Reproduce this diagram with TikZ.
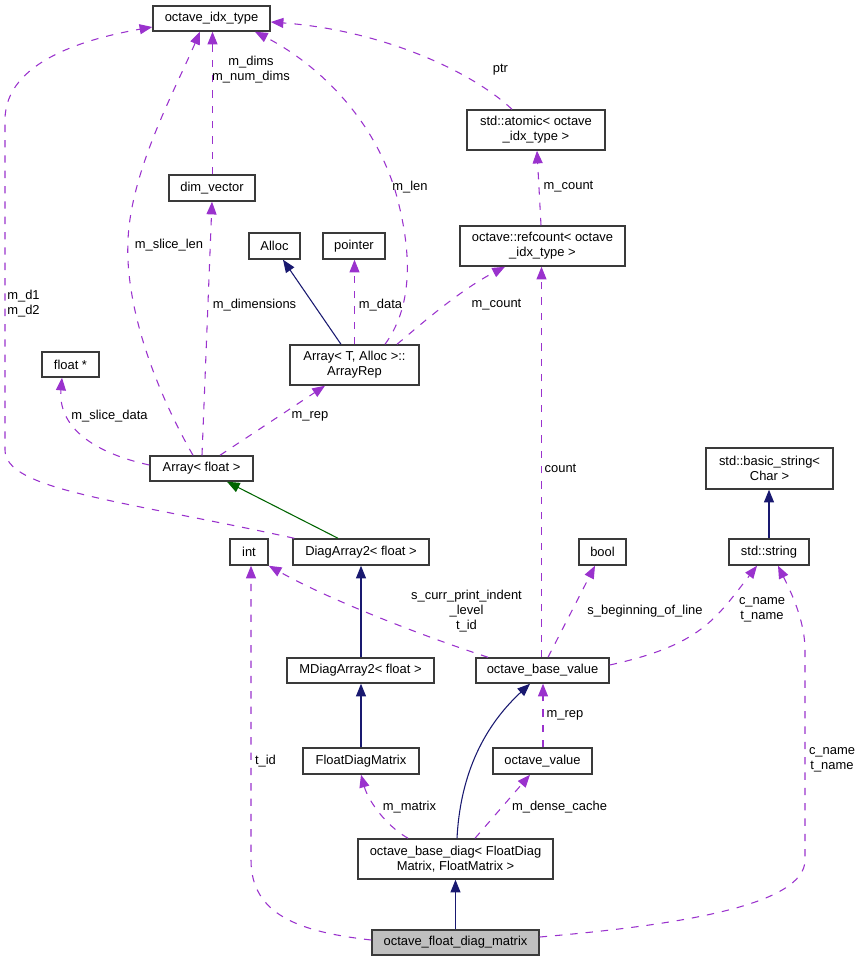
\documentclass[tikz,border=0pt]{standalone}
\usepackage{fontspec}
\setmainfont{Liberation Sans}
\usetikzlibrary{arrows.meta}
\definecolor{edgepurple}{HTML}{9A32CD}
\definecolor{edgenavy}{HTML}{191970}
\definecolor{edgegreen}{HTML}{006400}
\definecolor{boxline}{HTML}{3A3A3A}
\definecolor{mainfill}{HTML}{BFBFBF}
\def\pxu{0.75pt}
\tikzset{
  cls/.style={draw=boxline, line width=1.1pt, inner sep=0pt, align=center,
    font=\fontsize{9.7}{11.3}\selectfont, fill=white},
  lbl/.style={inner sep=0pt, align=center, font=\fontsize{9.7}{11.3}\selectfont},
  tip/.style={-{Triangle[length=9.5pt,width=7.5pt]}},
  usedby/.style={tip, draw=edgepurple, line width=0.8pt, dash pattern=on 5.5pt off 6pt},
  inherit/.style={tip, draw=edgenavy, line width=0.8pt},
  inheritg/.style={tip, draw=edgegreen, line width=0.8pt},
}
\begin{document}
\begin{tikzpicture}[x=0.75pt, y=-0.75pt]
\useasboundingbox (0,0) rectangle (861,961);
% nodes
\node[cls, minimum width=117*\pxu, minimum height=25*\pxu] (idx) at (211.5,18.5) {octave\_idx\_type};
\node[cls, minimum width=86*\pxu, minimum height=26*\pxu] (dimv) at (212,188) {dim\_vector};
\node[cls, minimum width=51*\pxu, minimum height=26*\pxu] (alloc) at (274.5,246) {Alloc};
\node[cls, minimum width=62*\pxu, minimum height=26*\pxu] (pointer) at (354,246) {pointer};
\node[cls, minimum width=138*\pxu, minimum height=40*\pxu] (atomic) at (536,130) {std::atomic< octave\\\_idx\_type >};
\node[cls, minimum width=165*\pxu, minimum height=40*\pxu] (refcount) at (542.5,246) {octave::refcount< octave\\\_idx\_type >};
\node[cls, minimum width=57*\pxu, minimum height=25*\pxu] (floatp) at (70.5,364.5) {float *};
\node[cls, minimum width=129*\pxu, minimum height=40*\pxu] (arep) at (354.5,365) {Array< T, Alloc >::\\ArrayRep};
\node[cls, minimum width=103*\pxu, minimum height=25*\pxu] (arr) at (201.5,468.5) {Array< float >};
\node[cls, minimum width=38*\pxu, minimum height=26*\pxu] (int) at (249,552) {int};
\node[cls, minimum width=136*\pxu, minimum height=26*\pxu] (diag2) at (361,552) {DiagArray2< float >};
\node[cls, minimum width=127*\pxu, minimum height=41*\pxu] (bstr) at (769.5,468.5) {std::basic\_string<\\Char >};
\node[cls, minimum width=47*\pxu, minimum height=26*\pxu] (bool) at (602.5,552) {bool};
\node[cls, minimum width=80*\pxu, minimum height=26*\pxu] (str) at (769,552) {std::string};
\node[cls, minimum width=147*\pxu, minimum height=25*\pxu] (mdiag) at (360.5,670.5) {MDiagArray2< float >};
\node[cls, minimum width=116*\pxu, minimum height=26*\pxu] (fdm) at (361,761) {FloatDiagMatrix};
\node[cls, minimum width=195*\pxu, minimum height=40*\pxu] (obd) at (455.5,859) {octave\_base\_diag< FloatDiag\\Matrix, FloatMatrix >};
\node[cls, fill=mainfill, minimum width=167*\pxu, minimum height=25*\pxu] (ofdm) at (455.5,942.5) {octave\_float\_diag\_matrix};
\node[cls, minimum width=133*\pxu, minimum height=25*\pxu] (obv) at (542.5,670.5) {octave\_base\_value};
\node[cls, minimum width=99*\pxu, minimum height=26*\pxu] (ov) at (542.5,761) {octave\_value};

% edges
\draw[usedby] ([xshift=0.5*\pxu]dimv.north) -- ([xshift=0.5*\pxu]dimv.north |- idx.south);
\draw[usedby] ([xshift=-8.5*\pxu]arr.north) .. controls (150,380) and (125,300) .. (128,240)
  .. controls (131,170) and (175,90) .. ([xshift=-11.5*\pxu]idx.south);
\draw[usedby] ([xshift=0.5*\pxu]arr.north) -- (dimv.south);
\draw[usedby] ([xshift=30.5*\pxu]arep.north) .. controls (410,310) and (415,260) .. (395,190)
  .. controls (370,110) and (310,60) .. ([xshift=43.5*\pxu]idx.south);
\draw[inherit] ([xshift=-13.5*\pxu]arep.north) -- ([xshift=8.5*\pxu]alloc.south);
\draw[usedby] ([xshift=0.5*\pxu]pointer.south |- arep.north) -- ([xshift=0.5*\pxu]pointer.south);
\draw[usedby] ([xshift=42.5*\pxu]arep.north) .. controls (420,325) and (460,290) .. ([xshift=-37.5*\pxu]refcount.south);
\draw[usedby] ([xshift=-1.5*\pxu]refcount.north) -- ([xshift=1*\pxu]atomic.south);
\draw[usedby] ([xshift=-24*\pxu]atomic.north) .. controls (470,70) and (380,30) .. ([yshift=-3.5*\pxu]idx.east);
\draw[usedby] ([yshift=3.5*\pxu]arr.west) .. controls (90,452) and (58,425) .. ([xshift=-8.5*\pxu]floatp.south);
\draw[usedby] ([xshift=18.5*\pxu]arr.north) -- ([xshift=-29.5*\pxu]arep.south);
\draw[inheritg] ([xshift=-23*\pxu]diag2.north) -- ([xshift=25.5*\pxu]arr.south);
\draw[usedby] ([xshift=2*\pxu]diag2.north west) .. controls (120,500) and (5,490) .. (5,450)
  -- (5,120) .. controls (5,60) and (90,38) .. ([yshift=-8.5*\pxu]idx.west);
\draw[inherit] (diag2.south |- mdiag.north) -- (diag2.south);
\draw[inherit] (fdm.north) -- (fdm.north |- mdiag.south);
\draw[usedby] ([xshift=-47.5*\pxu]obd.north) .. controls (385,825) and (368,800) .. (fdm.south);
\draw[usedby] ([xshift=19.5*\pxu]obd.north) -- ([xshift=-12.5*\pxu]ov.south);
\draw[inherit] ([xshift=1.5*\pxu]obd.north) .. controls (460,780) and (480,730) .. ([xshift=-12.5*\pxu]obv.south);
\draw[usedby] ([xshift=0.5*\pxu]ov.north) -- ([xshift=0.5*\pxu]obv.south);
\draw[usedby] ([xshift=-1*\pxu]obv.north) -- ([xshift=-1*\pxu]refcount.south);
\draw[usedby] ([xshift=-54.5*\pxu]obv.north) .. controls (420,635) and (330,600) .. (int.south east);
\draw[usedby] ([xshift=5.5*\pxu]obv.north) -- ([xshift=-7.5*\pxu]bool.south);
\draw[usedby] ([yshift=5.5*\pxu]obv.east) .. controls (700,645) and (715,620) .. ([xshift=-12*\pxu]str.south);
\draw[usedby] ([yshift=2.5*\pxu]ofdm.west) .. controls (300,932) and (251,915) .. (251,860)
  -- ([xshift=2*\pxu]int.south);
\draw[usedby] ([yshift=5.5*\pxu]ofdm.east) .. controls (680,925) and (805,905) .. (805,860)
  -- (805,650) .. controls (805,620) and (790,590) .. ([xshift=9*\pxu]str.south);
\draw[inherit] (str.north) -- (str.north |- bstr.south);
\draw[inherit] (ofdm.north) -- (obd.south);

% labels
\node[lbl] (l1) at (251,70) {m\_dims\\m\_num\_dims};
\node[lbl] (l2) at (169,245) {m\_slice\_len};
\node[lbl] (l3) at (410,187) {m\_len};
\node[lbl] (l4) at (254.5,305) {m\_dimensions};
\node[lbl] (l5) at (380.5,305) {m\_data};
\node[lbl] (l6) at (23.5,304) {m\_d1\\m\_d2};
\node[lbl] (l7) at (500.5,70) {ptr};
\node[lbl] (l8) at (568.5,187) {m\_count};
\node[lbl] (l9) at (496.5,305) {m\_count};
\node[lbl] (l10) at (109.5,416) {m\_slice\_data};
\node[lbl] (l11) at (310,416) {m\_rep};
\node[lbl] (l12) at (560.5,468) {count};
\node[lbl] (l13) at (645,611) {s\_beginning\_of\_line};
\node[lbl] (l14) at (762,610) {c\_name\\t\_name};
\node[lbl] (l15) at (466.5,611) {s\_curr\_print\_indent\\\_level\\t\_id};
\node[lbl] (l16) at (265.5,761) {t\_id};
\node[lbl] (l17) at (409.5,807) {m\_matrix};
\node[lbl] (l18) at (559.5,807) {m\_dense\_cache};
\node[lbl] (l19) at (565,715) {m\_rep};
\node[lbl] (l20) at (832,760) {c\_name\\t\_name};
\end{tikzpicture}
\end{document}
